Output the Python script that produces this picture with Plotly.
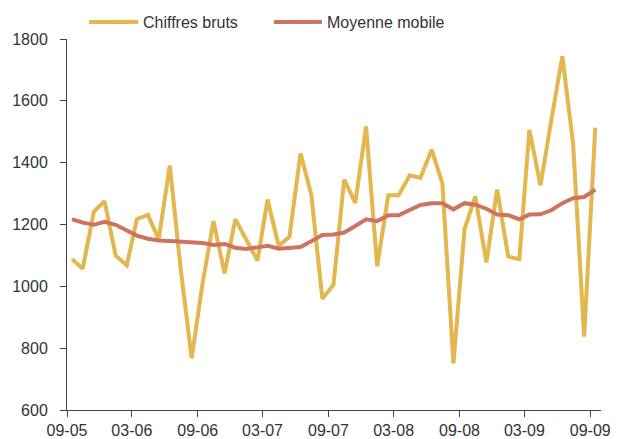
import pandas as pd
import plotly.graph_objects as go

# Monthly dates Sep 2005 .. Sep 2009 (plotted mid-month)
months = pd.date_range("2005-09-01", "2009-09-01", freq="MS") + pd.Timedelta(days=14)

chiffres_bruts = [
    1088, 1057, 1242, 1275, 1099, 1068, 1217, 1231, 1152, 1391,
    1061, 767, 1013, 1211, 1042, 1217, 1150, 1083, 1281, 1131,
    1160, 1430, 1297, 960, 1005, 1345, 1270, 1517, 1065, 1295,
    1295, 1359, 1351, 1442, 1334, 751, 1185, 1291, 1077, 1313,
    1096, 1088, 1506, 1327, 1535, 1744, 1463, 837, 1513,
]

moyenne_mobile = [
    1217, 1206, 1199, 1209, 1199, 1180, 1164, 1154, 1148, 1147,
    1145, 1141, 1140, 1134, 1137, 1125, 1121, 1126, 1131, 1122,
    1126, 1127, 1146, 1166, 1168, 1174, 1195, 1217, 1211, 1230,
    1230, 1248, 1263, 1269, 1269, 1249, 1269, 1264, 1251, 1232,
    1230, 1217, 1232, 1233, 1246, 1269, 1285, 1289, 1313,
]

series_names = ["Chiffres bruts", "Moyenne mobile"]
colors = ["#E3B64E", "#CC7460"]

y_ticks = [600, 800, 1000, 1200, 1400, 1600, 1800]

font_family = "Liberation Sans, Arial, sans-serif"
text_color = "#333333"

# the page body has an 8px margin, so the figure is sized/offset to compensate
W, H = 610, 431
ML, MR, MT, MB = 59, 17, 31, 29
PW, PH = W - ML - MR, H - MT - MB

fig = go.Figure()
fig.add_trace(go.Scatter(x=months, y=chiffres_bruts, mode="lines", name=series_names[0],
                         line=dict(color=colors[0], width=4)))
fig.add_trace(go.Scatter(x=months, y=moyenne_mobile, mode="lines", name=series_names[1],
                         line=dict(color=colors[1], width=4)))

legend_y_px = 14  # legend row centre, in figure pixels from top
legend_x_px = 36  # legend left, in pixels from plot left edge

fig.update_layout(
    width=W, height=H,
    margin=dict(l=ML, r=MR, t=MT, b=MB, autoexpand=False),
    paper_bgcolor="white", plot_bgcolor="white",
    font=dict(family=font_family, size=16, color=text_color),
    showlegend=True,
    legend=dict(orientation="h", x=legend_x_px / PW, xanchor="left",
                yref="container", y=1 - legend_y_px / H, yanchor="middle",
                font=dict(size=16, color=text_color),
                entrywidth=139, entrywidthmode="pixels",
                bgcolor="rgba(0,0,0,0)", tracegroupgap=0),
)

# lengthen the legend line samples (Excel-style longer swatches)
for start_px, color in [(22, colors[0]), (207, colors[1])]:
    fig.add_shape(type="line", xref="paper", yref="paper",
                  x0=start_px / PW, x1=(start_px + 40) / PW,
                  y0=(H - MB - legend_y_px) / PH, y1=(H - MB - legend_y_px) / PH,
                  line=dict(color=color, width=4))

fig.update_xaxes(
    type="date",
    range=["2005-09-01", "2009-10-01"],
    tick0="2005-09-01", dtick="M6", tickformat="%m-%y",
    showline=True, linecolor="#444444", linewidth=1,
    ticks="outside", ticklen=6, tickcolor="#444444",
    showgrid=False, zeroline=False,
    tickfont=dict(size=16, color=text_color),
)
fig.update_yaxes(
    range=[600, 1800], tickvals=y_ticks,
    showline=True, linecolor="#444444", linewidth=1,
    ticks="outside", ticklen=6, tickcolor="#444444",
    ticklabelstandoff=9,
    showgrid=False, zeroline=False,
    tickfont=dict(size=16, color=text_color),
)

fig.write_html("out.html")
